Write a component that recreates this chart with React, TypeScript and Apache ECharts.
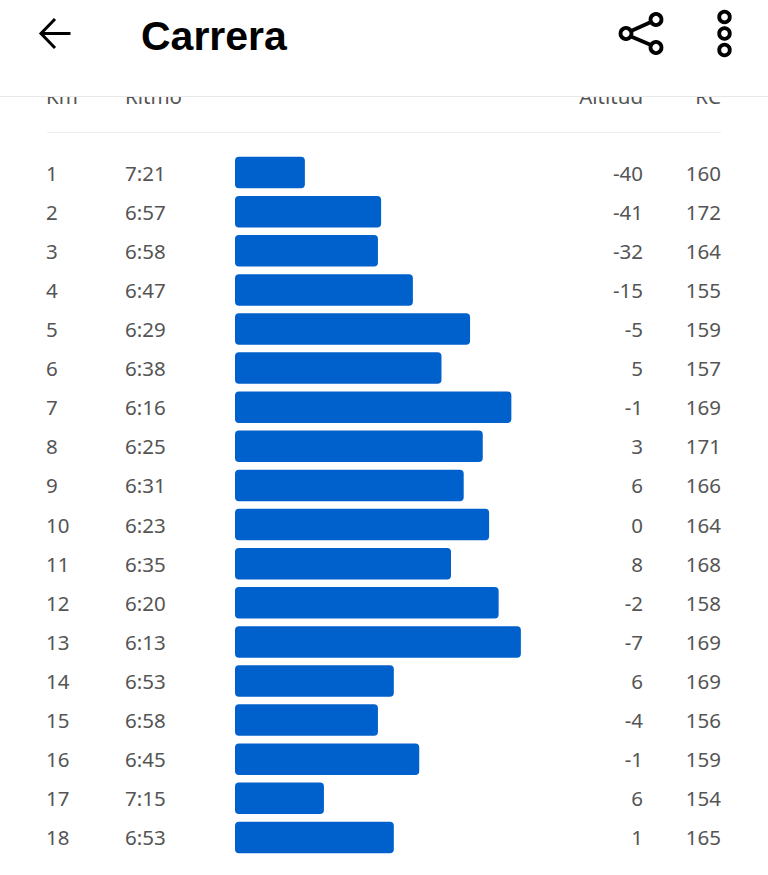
import React, { useEffect, useRef } from "react";
import * as echarts from "echarts";

const kmLabels = ["1","2","3","4","5","6","7","8","9","10","11","12","13","14","15","16","17","18"];
const paceLabels = ["7:21","6:57","6:58","6:47","6:29","6:38","6:16","6:25","6:31","6:23","6:35","6:20","6:13","6:53","6:58","6:45","7:15","6:53"];
const paceSeconds = [441,417,418,407,389,398,376,385,391,383,395,380,373,413,418,405,435,413];
const altitudeLabels = ["-40","-41","-32","-15","-5","5","-1","3","6","0","8","-2","-7","6","-4","-1","6","1"];
const heartRateLabels = ["160","172","164","155","159","157","169","171","166","164","168","158","169","169","156","159","154","165"];
const columnTitles = ["Km", "Ritmo", "Altitud", "RC"];
const screenTitle = "Carrera";

const FONT = "'Noto Sans', sans-serif";
const TEXT = "#555555";
const AXIS_MIN = 310;
const AXIS_MAX = 463;
const labelAxis = (data: string[], position: string, align: string, margin: number) => ({
  type: "category",
  data,
  inverse: true,
  position,
  axisLine: { show: false },
  axisTick: { show: false },
  splitLine: { show: false },
  axisLabel: { align, margin, color: TEXT, fontSize: 20.5, fontFamily: FONT, interval: 0 },
});

export default function App() {
  const ref = useRef<HTMLDivElement>(null);
  useEffect(() => {
    const chart = echarts.init(ref.current!, undefined, { renderer: "svg" });
    const icon = { fill: "none", stroke: "#000", lineWidth: 3.8 };
    const headStyle = { fontSize: 20.5, fontFamily: FONT, fill: TEXT, verticalAlign: "middle" };
    chart.setOption({
      animation: false,
      backgroundColor: "#ffffff",
      grid: { left: 235, right: 47, top: 153, height: 704 },
      xAxis: { type: "value", inverse: true, min: AXIS_MIN, max: AXIS_MAX, show: false },
      yAxis: [
        labelAxis(kmLabels, "left", "left", 189),
        labelAxis(paceLabels, "left", "left", 110),
        labelAxis(altitudeLabels, "right", "right", -78),
        labelAxis(heartRateLabels, "right", "right", 0),
      ],
      series: [
        {
          type: "custom",
          data: paceSeconds.map((pace, i) => [pace, i]),
          encode: { x: 0, y: 1 },
          yAxisIndex: 0,
          clip: false,
          renderItem: (_params: any, api: any) => {
            const end = api.coord([api.value(0), api.value(1)]);
            const start = api.coord([AXIS_MAX, api.value(1)]);
            const h = 31.5;
            return {
              type: "rect",
              shape: { x: start[0], y: end[1] - h / 2, width: end[0] - start[0], height: h, r: 4 },
              style: { fill: "#0061cc" },
            };
          },
        },
      ],
      graphic: [
        { type: "text", z: 5, x: 46, y: 96, style: { ...headStyle, text: columnTitles[0], align: "left" } },
        { type: "text", z: 5, x: 125, y: 96, style: { ...headStyle, text: columnTitles[1], align: "left" } },
        { type: "text", z: 5, x: 643, y: 96, style: { ...headStyle, text: columnTitles[2], align: "right" } },
        { type: "text", z: 5, x: 721, y: 96, style: { ...headStyle, text: columnTitles[3], align: "right" } },
        { type: "rect", z: 10, shape: { x: 0, y: 0, width: 768, height: 96 }, style: { fill: "#ffffff" } },
        { type: "line", z: 11, shape: { x1: 0, y1: 96.5, x2: 768, y2: 96.5 }, style: { stroke: "#e8e8e8", lineWidth: 1 } },
        { type: "line", z: 11, shape: { x1: 47, y1: 132.5, x2: 721, y2: 132.5 }, style: { stroke: "#eeeeee", lineWidth: 1 } },
        { type: "text", z: 12, x: 141, y: 36, style: { text: screenTitle, fontSize: 41, fontWeight: "bold", fontFamily: "'Liberation Sans', sans-serif", fill: "#000", align: "left", verticalAlign: "middle" } },
        { type: "polyline", z: 12, shape: { points: [[55, 19], [41, 33.5], [55, 48]] }, style: { ...icon, lineWidth: 3 } },
        { type: "line", z: 12, shape: { x1: 41, y1: 33.5, x2: 70.5, y2: 33.5 }, style: { ...icon, lineWidth: 3 } },
        { type: "line", z: 12, shape: { x1: 631, y1: 31, x2: 651, y2: 22 }, style: icon },
        { type: "line", z: 12, shape: { x1: 631, y1: 36.5, x2: 651, y2: 45 }, style: icon },
        { type: "circle", z: 12, shape: { cx: 626, cy: 33.5, r: 5.5 }, style: icon },
        { type: "circle", z: 12, shape: { cx: 656, cy: 19.5, r: 5.5 }, style: icon },
        { type: "circle", z: 12, shape: { cx: 656, cy: 47.5, r: 5.5 }, style: icon },
        { type: "circle", z: 12, shape: { cx: 724.5, cy: 17, r: 5.3 }, style: icon },
        { type: "circle", z: 12, shape: { cx: 724.5, cy: 33.5, r: 5.3 }, style: icon },
        { type: "circle", z: 12, shape: { cx: 724.5, cy: 50, r: 5.3 }, style: icon },
      ],
    });
    return () => chart.dispose();
  }, []);
  return <div ref={ref} style={{ position: "absolute", left: 0, top: 0, width: 768, height: 875 }} />;
}
